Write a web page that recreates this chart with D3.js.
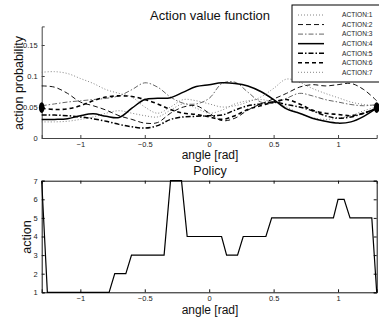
<!DOCTYPE html>
<html>
<head>
<meta charset="utf-8">
<script src="https://cdn.jsdelivr.net/npm/d3@7"></script>
<style>
  html, body { margin: 0; padding: 0; background: #fff; }
  svg { display: block; font-family: "Liberation Sans", Arial, sans-serif; }
</style>
</head>
<body>
<svg id="chart" width="379" height="321"></svg>
<script>
// Angle grid (rad) on which the action probabilities were sampled
const angles = [-1.3, -1.2, -1.1, -1.0, -0.9, -0.8, -0.7, -0.6, -0.5, -0.4, -0.3, -0.2, -0.1,
                0, 0.1, 0.2, 0.3, 0.4, 0.5, 0.6, 0.7, 0.8, 0.9, 1.0, 1.1, 1.2, 1.3];

// Action probability per action, one value per angle above
const action1 = [0.026, 0.026, 0.027, 0.030, 0.034, 0.040, 0.044, 0.040, 0.036, 0.034, 0.045, 0.055, 0.048,
                 0.040, 0.045, 0.055, 0.060, 0.062, 0.058, 0.050, 0.040, 0.033, 0.030, 0.032, 0.036, 0.044, 0.050];
const action2 = [0.084, 0.082, 0.072, 0.058, 0.052, 0.045, 0.036, 0.030, 0.024, 0.025, 0.040, 0.050, 0.052,
                 0.040, 0.028, 0.032, 0.045, 0.055, 0.063, 0.072, 0.082, 0.086, 0.084, 0.086, 0.088, 0.078, 0.060];
const action3 = [0.052, 0.055, 0.058, 0.060, 0.062, 0.064, 0.068, 0.078, 0.089, 0.082, 0.066, 0.056, 0.055,
                 0.064, 0.088, 0.090, 0.074, 0.058, 0.056, 0.064, 0.072, 0.068, 0.062, 0.058, 0.054, 0.052, 0.054];
const action4 = [0.030, 0.030, 0.031, 0.036, 0.039, 0.035, 0.033, 0.048, 0.062, 0.064, 0.065, 0.074, 0.083,
                 0.086, 0.089, 0.088, 0.084, 0.075, 0.062, 0.047, 0.040, 0.032, 0.027, 0.024, 0.026, 0.035, 0.048];
const action5 = [0.037, 0.037, 0.036, 0.034, 0.031, 0.027, 0.022, 0.018, 0.016, 0.020, 0.030, 0.034, 0.035,
                 0.036, 0.037, 0.045, 0.052, 0.055, 0.058, 0.054, 0.050, 0.044, 0.036, 0.032, 0.034, 0.040, 0.048];
const action6 = [0.048, 0.046, 0.047, 0.052, 0.060, 0.066, 0.068, 0.067, 0.062, 0.055, 0.046, 0.040, 0.038,
                 0.034, 0.030, 0.036, 0.046, 0.052, 0.058, 0.062, 0.055, 0.045, 0.040, 0.038, 0.036, 0.040, 0.048];
const action7 = [0.106, 0.107, 0.104, 0.096, 0.088, 0.078, 0.072, 0.066, 0.050, 0.040, 0.050, 0.062, 0.060,
                 0.055, 0.050, 0.052, 0.058, 0.066, 0.080, 0.095, 0.090, 0.080, 0.072, 0.065, 0.058, 0.054, 0.052];

const actionNames = ["ACTION:1", "ACTION:2", "ACTION:3", "ACTION:4", "ACTION:5", "ACTION:6", "ACTION:7"];

// Boundary markers on the probability plot
const markerAngles = [-1.3, 1.3];
const markerValues = [0.049, 0.049];

// Greedy policy: vertices of the action-vs-angle polyline
const policyAngles  = [-1.3, -1.256, -0.777, -0.733, -0.647, -0.603, -0.35, -0.30, -0.215, -0.171,
                       0.096, 0.135, 0.22, 0.264, 0.44, 0.485, 0.964, 1.0, 1.047, 1.093, 1.262, 1.3];
const policyActions = [7, 1, 1, 2, 2, 3, 3, 7, 7, 4, 4, 3, 3, 4, 4, 5, 5, 6, 6, 5, 5, 1];

// Tick values
const angleTicks = [-1, -0.5, 0, 0.5, 1];
const probTicks = [0, 0.05, 0.1, 0.15];
const actionTicks = [1, 2, 3, 4, 5, 6, 7];

// Line styles for each action
const styles = [
  { dash: "1,2",       width: 0.9, color: "#777" },
  { dash: "5,3",       width: 1.0, color: "#111" },
  { dash: "5,2,1.5,2", width: 1.0, color: "#666" },
  { dash: null,        width: 1.5, color: "#000" },
  { dash: "5,2,1.5,2", width: 1.5, color: "#000" },
  { dash: "4,3",       width: 1.6, color: "#000" },
  { dash: "1,2",       width: 0.9, color: "#777" }
];

const series = [action1, action2, action3, action4, action5, action6, action7];

const svg = d3.select("#chart");
const tickFont = 7.5;
const angleFormat = d => d === 0 ? "0" : String(d).replace("-", "\u2212");

function styleAxis(g, stroke) {
  g.select(".domain").attr("stroke", stroke).attr("stroke-width", 1);
  g.selectAll(".tick line").attr("stroke", stroke);
  g.selectAll(".tick text").attr("font-size", tickFont).attr("fill", "#222")
    .attr("font-family", "Liberation Sans, Arial, sans-serif");
}

// ---------- Top panel: action value function ----------
const x1 = d3.scaleLinear().domain([-1.3, 1.3]).range([41.7, 376.7]);
const y1 = d3.scaleLinear().domain([0, 0.18]).range([138, 26.4]);

const topPanel = svg.append("g");

const gx1 = topPanel.append("g").attr("transform", "translate(0,138)")
  .call(d3.axisBottom(x1).tickValues(angleTicks).tickSize(-3).tickPadding(4).tickFormat(angleFormat));
const gy1 = topPanel.append("g").attr("transform", "translate(41.7,0)")
  .call(d3.axisLeft(y1).tickValues(probTicks).tickSize(-3).tickPadding(4)
    .tickFormat(d => d === 0 ? "0" : String(d)));
styleAxis(gx1, "#444");
styleAxis(gy1, "#444");

const line1 = d3.line()
  .x((d, i) => x1(angles[i]))
  .y(d => y1(d))
  .curve(d3.curveCatmullRom.alpha(0.5));

series.forEach((s, k) => {
  topPanel.append("path")
    .attr("d", line1(s))
    .attr("fill", "none")
    .attr("stroke", styles[k].color)
    .attr("stroke-width", styles[k].width)
    .attr("stroke-dasharray", styles[k].dash);
});

// Boundary markers
topPanel.selectAll("ellipse.marker")
  .data(markerAngles)
  .join("ellipse")
  .attr("class", "marker")
  .attr("cx", d => x1(d))
  .attr("cy", (d, i) => y1(markerValues[i]))
  .attr("rx", 2.8)
  .attr("ry", 5.3)
  .attr("fill", "#000");

topPanel.append("text").attr("x", 210).attr("y", 20).attr("text-anchor", "middle")
  .attr("font-size", 13).attr("fill", "#111").text("Action value function");
topPanel.append("text").attr("x", 210).attr("y", 159).attr("text-anchor", "middle")
  .attr("font-size", 12).attr("fill", "#111").text("angle [rad]");
topPanel.append("text").attr("transform", "translate(23,83) rotate(-90)").attr("text-anchor", "middle")
  .attr("font-size", 12.5).attr("fill", "#111").text("action probability");

// Legend
const legend = topPanel.append("g").attr("transform", "translate(292,5)");
legend.append("rect").attr("x", 0).attr("y", 0).attr("width", 100).attr("height", 77)
  .attr("fill", "#fff").attr("stroke", "#000").attr("stroke-width", 1);
actionNames.forEach((name, k) => {
  const yy = 10 + k * 9.55;
  legend.append("line").attr("x1", 6).attr("x2", 32).attr("y1", yy).attr("y2", yy)
    .attr("stroke", styles[k].color)
    .attr("stroke-width", styles[k].width)
    .attr("stroke-dasharray", styles[k].dash);
  legend.append("text").attr("x", 50).attr("y", yy + 2.3)
    .attr("font-size", 6.6).attr("fill", "#222").text(name);
});

// ---------- Bottom panel: policy ----------
const x2 = d3.scaleLinear().domain([-1.3, 1.3]).range([41.7, 376.7]);
const y2 = d3.scaleLinear().domain([1, 7]).range([292.3, 180.7]);

const botPanel = svg.append("g");

const gx2 = botPanel.append("g").attr("transform", "translate(0,292.3)")
  .call(d3.axisBottom(x2).tickValues(angleTicks).tickSize(-3).tickPadding(3).tickFormat(angleFormat));
const gxTop2 = botPanel.append("g").attr("transform", "translate(0,180.7)")
  .call(d3.axisTop(x2).tickValues(angleTicks).tickSize(-3).tickFormat(""));
const gy2 = botPanel.append("g").attr("transform", "translate(41.7,0)")
  .call(d3.axisLeft(y2).tickValues(actionTicks).tickSize(-3).tickPadding(4).tickFormat(d3.format("d")));
const gyRight2 = botPanel.append("g").attr("transform", "translate(376.7,0)")
  .call(d3.axisRight(y2).tickValues(actionTicks).tickSize(-3).tickFormat(""));
[gx2, gxTop2, gy2, gyRight2].forEach(g => styleAxis(g, "#111"));

const line2 = d3.line()
  .x((d, i) => x2(policyAngles[i]))
  .y(d => y2(d));

botPanel.append("path")
  .attr("d", line2(policyActions))
  .attr("fill", "none")
  .attr("stroke", "#000")
  .attr("stroke-width", 1.2);

botPanel.append("text").attr("x", 210).attr("y", 175).attr("text-anchor", "middle")
  .attr("font-size", 12.5).attr("fill", "#111").text("Policy");
botPanel.append("text").attr("x", 210).attr("y", 314).attr("text-anchor", "middle")
  .attr("font-size", 12).attr("fill", "#111").text("angle [rad]");
botPanel.append("text").attr("transform", "translate(31,237) rotate(-90)").attr("text-anchor", "middle")
  .attr("font-size", 12.5).attr("fill", "#111").text("action");
</script>
</body>
</html>
